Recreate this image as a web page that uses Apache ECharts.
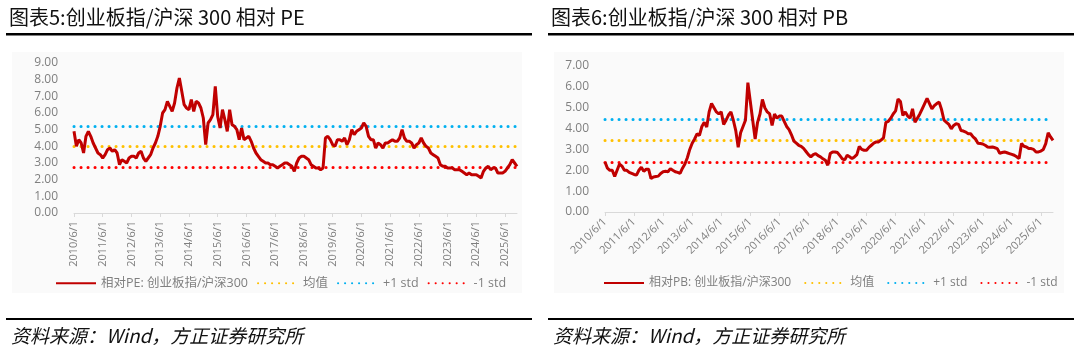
<!DOCTYPE html>
<html><head><meta charset="utf-8">
<script src="https://cdn.jsdelivr.net/npm/echarts@6/dist/echarts.min.js"></script>
<style>html,body{margin:0;padding:0;background:#fff}#c{width:1080px;height:359px}</style>
</head><body><div id="c"></div>
<script>
// ---- data ----
const startYear = 2010, startMonth = 6, monthCount = 186;
const tickLabels = ['2010/6/1','2011/6/1','2012/6/1','2013/6/1','2014/6/1','2015/6/1','2016/6/1','2017/6/1','2018/6/1','2019/6/1','2020/6/1','2021/6/1','2022/6/1','2023/6/1','2024/6/1','2025/6/1'];
const yTicksPE = [0,1,2,3,4,5,6,7,8,9];
const yTicksPB = [0,1,2,3,4,5,6,7];
const peValues = [
4.9,4.0,4.4,4.2,3.6,4.6,4.9,4.6,4.2,3.9,3.6,3.5,
3.3,3.5,3.8,3.9,3.7,3.8,3.6,2.9,3.2,3.1,3.0,3.3,
3.4,3.4,3.3,3.6,3.7,3.3,3.1,3.3,3.5,3.9,4.2,4.6,
5.2,6.0,6.2,6.7,6.4,6.1,6.6,7.5,8.1,7.3,6.5,6.3,
6.2,6.8,6.1,6.7,6.6,6.3,5.7,4.1,5.4,5.6,5.9,7.6,
5.8,5.1,6.2,5.6,4.9,6.2,5.3,5.2,5.0,4.4,5.1,4.4,
4.5,4.6,4.3,3.9,3.6,3.4,3.2,3.1,3.0,3.0,2.9,2.9,
2.8,2.7,2.8,2.9,3.0,3.0,2.9,2.8,2.5,3.0,3.3,3.4,
3.4,3.3,3.2,2.9,2.8,2.7,2.7,2.6,2.7,4.5,4.6,4.4,
4.1,4.0,4.4,4.4,4.3,4.5,4.1,4.4,5.0,4.7,4.9,5.0,
5.1,5.4,5.2,4.6,4.4,4.4,3.9,4.2,4.1,3.9,4.2,4.2,
4.3,4.4,4.3,4.3,4.5,5.0,4.5,4.3,4.3,4.2,3.9,4.1,
4.2,4.5,4.2,4.0,3.9,3.6,3.5,3.4,3.3,2.9,2.8,2.8,
2.7,2.7,2.7,2.6,2.6,2.6,2.5,2.4,2.3,2.4,2.3,2.3,
2.3,2.2,2.1,2.5,2.7,2.8,2.6,2.7,2.7,2.4,2.4,2.4,
2.5,2.7,2.9,3.2,3.0,2.8];
const pbValues = [
2.4,2.1,2.0,2.0,1.7,2.0,2.3,2.2,2.0,2.0,1.9,1.85,
1.8,1.77,2.0,2.15,1.95,2.05,2.05,1.6,1.68,1.7,1.72,1.85,
1.93,1.95,1.93,2.08,2.0,1.93,1.9,1.85,2.1,2.3,2.6,3.0,
3.3,3.5,3.75,3.67,4.1,4.3,4.07,4.8,5.2,5.0,4.8,4.7,
4.8,4.2,4.4,4.65,4.8,4.4,3.9,3.1,3.8,4.1,4.4,6.2,
5.3,4.4,3.5,4.3,4.7,5.4,5.0,4.8,4.7,4.15,4.7,4.5,
4.6,4.6,4.35,4.1,3.95,3.7,3.4,3.3,3.2,3.15,3.05,2.9,
2.75,2.64,2.75,2.8,2.7,2.64,2.55,2.48,2.24,2.8,2.88,2.88,
2.85,2.7,2.55,2.5,2.72,2.65,2.56,2.64,2.75,3.15,3.0,2.96,
2.96,3.1,3.2,3.3,3.36,3.36,3.45,3.55,4.3,4.35,4.5,4.7,
4.85,5.42,5.3,4.63,4.8,4.6,4.5,4.95,4.3,4.5,4.7,4.95,
5.2,5.45,5.2,4.95,5.1,5.2,5.27,4.9,4.4,4.3,4.2,3.99,
4.15,4.23,4.2,3.91,3.88,3.83,3.75,3.75,3.6,3.5,3.3,3.28,
3.26,3.2,3.12,3.1,3.12,3.08,3.04,2.82,2.85,2.88,2.84,2.8,
2.76,2.72,2.65,2.56,3.28,3.15,3.12,3.04,3.04,3.0,2.88,2.88,
2.92,3.0,3.28,3.8,3.6,3.43];
// [mean, +1 std, -1 std]
const peLevels = [4.0, 5.22, 2.77];
const pbLevels = [3.43, 4.47, 2.39];
const levelNames = ['均值', '+1 std', '-1 std'];
const levelColors = ['#FFC000', '#00B0F0', '#FF0000'];
const peName = '相对PE: 创业板指/沪深300';
const pbName = '相对PB: 创业板指/沪深300';

const categories = [];
for (let i = 0; i < monthCount; i++) {
  const mm = startMonth - 1 + i;
  categories.push((startYear + Math.floor(mm / 12)) + '/' + (mm % 12 + 1) + '/1');
}

const FONT = "'Open Sans','Noto Sans CJK SC',sans-serif";
const GRAY = '#7f7f7f';
const isTick = (idx) => tickLabels.indexOf(categories[idx]) >= 0;

function xAxis(gi, rot) {
  return {
    type: 'category', gridIndex: gi, data: categories, boundaryGap: false,
    axisLine: {lineStyle: {color: '#d9d9d9', width: 1}},
    axisTick: {show: true, interval: (i) => isTick(i), length: 4, lineStyle: {color: '#d9d9d9'}},
    axisLabel: {interval: (i) => isTick(i), rotate: rot, color: GRAY, fontSize: 11, fontFamily: FONT, margin: 8},
    splitLine: {show: false}
  };
}
function yAxis(gi, ticks) {
  return {
    type: 'value', gridIndex: gi, min: ticks[0], max: ticks[ticks.length - 1], interval: 1,
    axisLine: {show: false}, axisTick: {show: false}, splitLine: {show: false},
    axisLabel: {color: GRAY, fontSize: 12, fontFamily: FONT, margin: 16, formatter: (v) => v.toFixed(2)}
  };
}
function levelSeries(gi, levels) {
  return levels.map((lv, k) => ({
    name: levelNames[k], type: 'line', xAxisIndex: gi, yAxisIndex: gi, data: [],
    symbol: 'none', silent: true,
    lineStyle: {color: levelColors[k], width: 3, type: [0.1, 6.9], cap: 'round'},
    itemStyle: {color: levelColors[k]},
    markLine: {
      silent: true, symbol: 'none', label: {show: false},
      lineStyle: {color: levelColors[k], width: 3, type: [0.1, 6.9], cap: 'round'},
      data: [{yAxis: lv}]
    },
    z: 1
  }));
}
function mainSeries(gi, name, vals) {
  return {
    name: name, type: 'line', xAxisIndex: gi, yAxisIndex: gi, data: vals,
    symbol: 'none', lineStyle: {color: '#C00000', width: 3}, itemStyle: {color: '#C00000'}, z: 5
  };
}
function legend(left, name, gap, fs) {
  return {
    left: left, top: 277, width: 500, padding: 0, itemWidth: 40, itemHeight: 12, itemGap: gap,
    data: [name].concat(levelNames),
    itemStyle: {opacity: 0},
    textStyle: {color: GRAY, fontSize: fs, fontFamily: FONT}
  };
}
function panelGraphics(x0, title) {
  return [
    {type: 'rect', left: x0 + 12, top: 52, shape: {width: 510, height: 241}, style: {fill: '#fafafa'}, z: -10, silent: true},
    {type: 'text', left: x0 + 9, top: 7, style: {text: title, fontSize: 20, fontFamily: "'Noto Sans CJK SC',sans-serif", fill: '#111'}},
    {type: 'rect', left: x0 + 6, top: 33, shape: {width: 526, height: 2.5}, style: {fill: '#000'}},
    {type: 'rect', left: x0 + 6, top: 318, shape: {width: 526, height: 2}, style: {fill: '#000'}},
    {type: 'text', left: x0 + 11, top: 326, style: {text: '资料来源：Wind，方正证券研究所', fontSize: 19, fontStyle: 'italic', fontFamily: "'Noto Sans CJK SC',sans-serif", fill: '#111'}}
  ];
}

const chart = echarts.init(document.getElementById('c'), null, {renderer: 'canvas'});
chart.setOption({
  animation: false,
  backgroundColor: '#fff',
  textStyle: {fontFamily: FONT},
  grid: [
    {left: 74, top: 63, width: 443, height: 150},
    {left: 605, top: 66, width: 448, height: 146}
  ],
  xAxis: [xAxis(0, 90), xAxis(1, 45)],
  yAxis: [yAxis(0, yTicksPE), yAxis(1, yTicksPB)],
  legend: [legend(55, peName, 9, 12.5), legend(603, pbName, 13, 12)],
  graphic: panelGraphics(0, '图表5:创业板指/沪深 300 相对 PE').concat(panelGraphics(542, '图表6:创业板指/沪深 300 相对 PB')),
  series: [mainSeries(0, peName, peValues)].concat(levelSeries(0, peLevels))
    .concat([mainSeries(1, pbName, pbValues)]).concat(levelSeries(1, pbLevels))
});
</script></body></html>
